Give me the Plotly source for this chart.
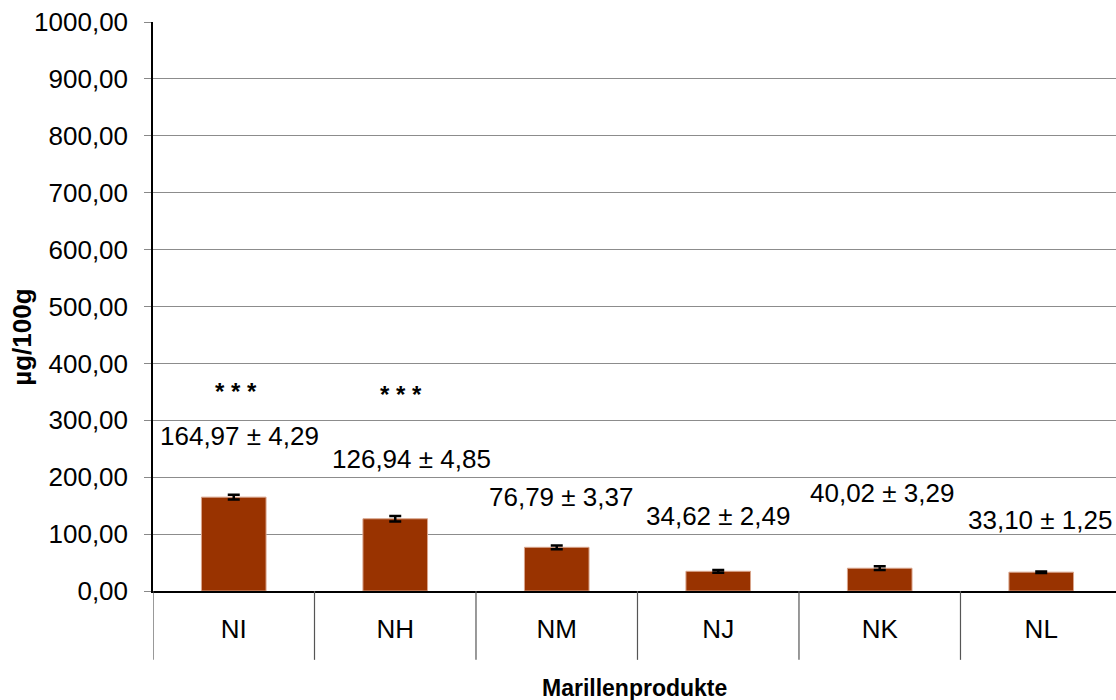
import plotly.graph_objects as go

categories = ["NI", "NH", "NM", "NJ", "NK", "NL"]
values = [164.97, 126.94, 76.79, 34.62, 40.02, 33.10]
errors = [4.29, 4.85, 3.37, 2.49, 3.29, 1.25]
stars = ["***", "***", "", "", "", ""]
y_ticks = [0, 100, 200, 300, 400, 500, 600, 700, 800, 900, 1000]

# layout: positions of the value labels and star marks
label_y = [272, 232, 165, 132, 173, 124.5]
label_dx = [6, 16, 4, 0, 2, -1]
star_y = [350, 345, None, None, None, None]
star_dx = [2, 6, 0, 0, 0, 0]

FONT = "Liberation Sans, Arial, Helvetica, sans-serif"

fig = go.Figure()
fig.add_trace(go.Bar(
    x=categories, y=values,
    width=0.40,
    marker=dict(color="#993300", line=dict(color="#d9a58c", width=1)),
    error_y=dict(type="data", array=errors, visible=True,
                 color="black", thickness=2.5, width=6),
))

annotations = []
for c, v, e, ly, dx in zip(categories, values, errors, label_y, label_dx):
    txt = f"{v:.2f} ± {e:.2f}".replace(".", ",")
    annotations.append(dict(x=c, y=ly, xref="x", yref="y", text=txt, xshift=dx,
                            showarrow=False, font=dict(size=26, color="black", family=FONT),
                            xanchor="center", yanchor="middle"))
for c, s, sy, dx in zip(categories, stars, star_y, star_dx):
    if s:
        annotations.append(dict(x=c, y=sy, xref="x", yref="y", text="<b>" + " ".join(s) + "</b>",
                                xshift=dx, showarrow=False,
                                font=dict(size=24, color="black", family=FONT),
                                xanchor="center", yanchor="middle"))

annotations.append(dict(x=0.5, y=-0.170, xref="paper", yref="paper",
                        text="<b>Marillenprodukte</b>", showarrow=False,
                        font=dict(size=23, color="black", family=FONT),
                        xanchor="center", yanchor="middle"))
annotations.append(dict(x=-0.136, y=0.445, xref="paper", yref="paper",
                        text="<b>µg/100g</b>", showarrow=False, textangle=-90,
                        font=dict(size=26, color="black", family=FONT),
                        xanchor="center", yanchor="middle"))

shapes = []
for i in range(len(categories) + 1):
    shapes.append(dict(type="line", xref="x", yref="paper",
                       x0=i - 0.5, x1=i - 0.5, y0=0, y1=-0.121,
                       line=dict(color="#555555", width=1.2)))

fig.update_layout(
    width=1116, height=700,
    margin=dict(l=153, r=0, t=22, b=109),
    paper_bgcolor="white", plot_bgcolor="white",
    separators=",.",
    showlegend=False,
    bargap=0.6,
    font=dict(family=FONT, size=26, color="black"),
    annotations=annotations,
    shapes=shapes,
    xaxis=dict(
        type="category",
        range=[-0.5, 5.463],
        showline=True, linecolor="black", linewidth=1.5,
        ticks="outside", ticklen=14, tickcolor="rgba(0,0,0,0)",
        tickfont=dict(size=26, color="black", family=FONT),
        showgrid=False, zeroline=False,
    ),
    yaxis=dict(
        range=[0, 1000],
        tickvals=y_ticks,
        tickformat=".2f",
        showline=True, linecolor="black", linewidth=1.5,
        ticks="outside", ticklen=7, tickcolor="#888888",
        ticklabelstandoff=11,
        tickfont=dict(size=26, color="black", family=FONT),
        showgrid=True, gridcolor="#8c8c8c", gridwidth=1,
        zeroline=False,
    ),
)

fig.write_html("out.html")
